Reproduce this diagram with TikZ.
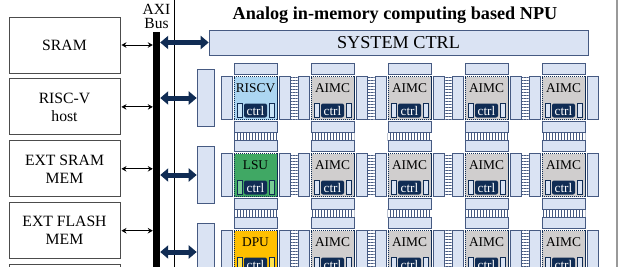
\documentclass[tikz,border=0pt]{standalone}
\usepackage{fontspec}
\setmainfont{Liberation Serif}
\usetikzlibrary{arrows.meta, positioning, calc, patterns.meta}

\definecolor{navy}{RGB}{16,44,84}
\definecolor{padfill}{RGB}{218,227,243}
\definecolor{padline}{RGB}{70,90,130}
\definecolor{riscvfill}{RGB}{172,214,242}
\definecolor{riscvslot}{RGB}{200,228,248}
\definecolor{aimcfill}{RGB}{208,206,206}
\definecolor{lsufill}{RGB}{64,168,100}
\definecolor{lsuslot}{RGB}{120,205,150}
\definecolor{dpufill}{RGB}{255,192,0}
\definecolor{dpuslot}{RGB}{255,228,80}

\tikzset{
    memblock/.style = {rectangle, draw=black!70, line width=0.9pt, minimum width=111pt, minimum height=56pt, inner sep=0pt, align=center, font=\fontsize{15.7}{18}\selectfont},
    pad/.style = {rectangle, draw=padline, fill=padfill, line width=0.6pt, inner sep=0pt},
    core/.style = {rectangle, draw=navy, line width=0.8pt, dash pattern=on 1.2pt off 0.8pt, minimum width=43pt, minimum height=43pt, inner sep=0pt},
    corelabel/.style = {inner sep=0pt, font=\fontsize{13.4}{15}\selectfont},
    ctrlbox/.style = {rectangle, rounded corners=2pt, fill=navy, text=white, minimum width=23pt, minimum height=14pt, inner sep=0pt, font=\fontsize{13.2}{14}\selectfont},
    slot/.style = {rectangle, draw=navy, line width=0.5pt, minimum width=5pt, minimum height=14pt, inner sep=0pt},
    hlink/.style = {pattern={Lines[angle=0, distance=3pt, line width=0.5pt]}, pattern color=padline},
    vlink/.style = {pattern={Lines[angle=90, distance=3pt, line width=0.5pt]}, pattern color=padline},
    thinarrow/.style = {line width=0.9pt, {Stealth[length=5pt, width=5.5pt]}-{Stealth[length=5pt, width=5.5pt]}, shorten <=1pt},
    busarrow/.style = {navy, line width=5pt, {Triangle[length=8pt, width=13pt]}-{Triangle[length=8pt, width=13pt]}}
}

\begin{document}
\begin{tikzpicture}[x=1pt, y=-1pt]
\useasboundingbox (0,0) rectangle (626,266);
\clip (0,0) rectangle (626,266);

% --- HOST SIDE ---
\node (sram) [memblock] at (64.5,45) {SRAM};
\node (host) [memblock, below=5pt of sram] {RISC-V\\host};
\node (extsram) [memblock, below=5pt of host] {EXT SRAM\\MEM};
\node (extflash) [memblock, below=5pt of extsram] {EXT FLASH\\MEM};
\node (more) [memblock, below=5pt of extflash] {};

% --- AXI BUS ---
\node (bus) [fill=black, minimum width=7pt, minimum height=250pt, inner sep=0pt] at (156.5,157) {};
\node (axi) [above=3pt of bus, inner sep=0pt, align=center, font=\fontsize{15.5}{14}\selectfont] {AXI\\Bus};

\foreach \m in {sram, host, extsram, extflash}
    \draw [thinarrow] (\m.east) -- (\m.east -| bus.west);

% --- NPU ---
\draw [line width=0.6pt] (174,-5) -- (174,280);
\draw [gray!80, line width=1.5pt] (617,-5) -- (617,280);
\node (title) at (395,19) [anchor=base, font=\bfseries\fontsize{18.2}{20}\selectfont] {Analog in-memory computing based NPU};
\node (sysctrl) [pad, minimum width=379pt, minimum height=25pt, font=\fontsize{18.2}{20}\selectfont] at (398.5,42.5) {SYSTEM CTRL};

\draw [busarrow] (sysctrl.west -| bus.east) -- (sysctrl.west);

% tiles
\foreach \r/\ry/\lab/\cfill/\sfill in {1/98/RISCV/riscvfill/riscvslot, 2/175/LSU/lsufill/lsuslot, 3/252/DPU/dpufill/dpuslot} {
    \node (head\r) [pad, minimum width=17pt, minimum height=57pt] at (205.5,\ry) {};
    \draw [busarrow] (head\r.west -| bus.east) -- (head\r.west);
    \foreach \c/\cx in {1/255.5, 2/332.5, 3/409.5, 4/486.5, 5/563.5} {
        \ifnum\c=1
            \def\tlab{\lab}\def\tfill{\cfill}\def\tslot{\sfill}
        \else
            \def\tlab{AIMC}\def\tfill{aimcfill}\def\tslot{padfill}
        \fi
        \node (core-\c-\r) [core, fill=\tfill] at (\cx,\ry) {};
        \node (tp-\c-\r) [pad, minimum width=43pt, minimum height=11pt] at (\cx,\ry-29) {};
        \node (bp-\c-\r) [pad, minimum width=43pt, minimum height=11pt] at (\cx,\ry+29) {};
        \node (lp-\c-\r) [pad, minimum width=11pt, minimum height=43pt] at (\cx-29,\ry) {};
        \node (rp-\c-\r) [pad, minimum width=11pt, minimum height=43pt] at (\cx+29,\ry) {};
        \node (lab-\c-\r) [corelabel] at (\cx,\ry-10) {\tlab};
        \node (ctrl-\c-\r) [ctrlbox] at (\cx,\ry+12.5) {ctrl};
        \node (ls-\c-\r) [slot, fill=\tslot] at (\cx-16,\ry+12.5) {};
        \node (rs-\c-\r) [slot, fill=\tslot] at (\cx+16,\ry+12.5) {};
    }
}

% links between tiles
\foreach \r in {1,2,3}
    \foreach \c in {1,2,3,4} {
        \pgfmathtruncatemacro\cn{\c+1}
        \path [hlink] (rp-\c-\r.north east) rectangle (lp-\cn-\r.south west);
    }
\foreach \r in {1,2}
    \foreach \c in {1,2,3,4,5} {
        \pgfmathtruncatemacro\rn{\r+1}
        \path [vlink] (bp-\c-\r.south west) rectangle (tp-\c-\rn.north east);
    }

\end{tikzpicture}
\end{document}
